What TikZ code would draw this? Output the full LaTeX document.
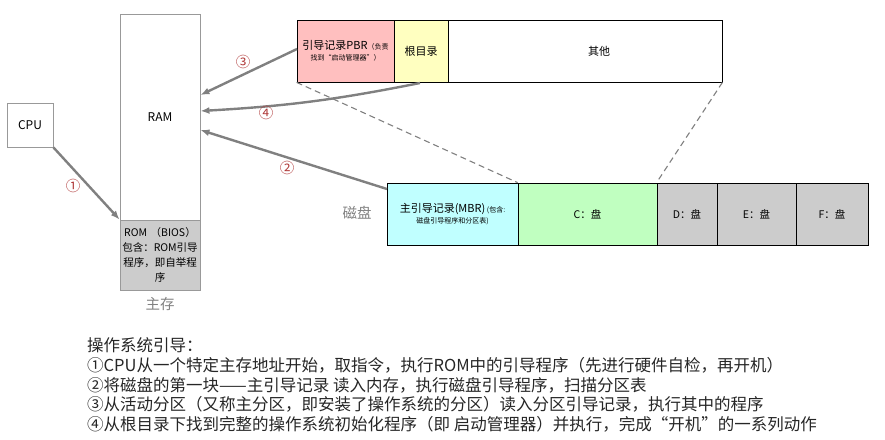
\documentclass[tikz,border=0pt]{standalone}
\usepackage{fontspec}
\setmainfont{Noto Sans CJK SC}
\usetikzlibrary{arrows.meta}
\definecolor{pbrc}{HTML}{FFBFBF}
\definecolor{rootc}{HTML}{FFFFC0}
\definecolor{mbrc}{HTML}{C0FFFF}
\definecolor{cdc}{HTML}{C0FFC0}
\definecolor{greyc}{HTML}{CCCCCC}
\definecolor{arrc}{HTML}{808080}
\definecolor{numc}{HTML}{B03A3A}
\definecolor{edgec}{HTML}{999999}
\definecolor{labc}{HTML}{808080}
\begin{document}
\begin{tikzpicture}[x=1pt,y=-1pt,
  mem/.style={draw=edgec, line width=0.8pt, inner sep=0pt, font=\fontsize{12}{14}\selectfont},
  cell/.style={draw=black, line width=0.8pt, inner sep=2pt, minimum height=62pt, align=center},
  conn/.style={draw=arrc, line width=2.4pt, -{Latex[length=9pt,width=7pt]}},
  dash line/.style={draw=arrc, line width=1.1pt, dash pattern=on 6pt off 4pt},
  num/.style={text=numc, font=\fontsize{14.5}{16}\selectfont, inner sep=0pt},
  grlab/.style={text=labc, font=\fontsize{14.5}{16}\selectfont, inner sep=0pt},
  para/.style={anchor=west, inner sep=0pt, font=\fontsize{16.5}{18}\selectfont, text=black!85}
]
\useasboundingbox (0,0) rectangle (885,439);

% CPU and memory
\node[mem, minimum width=46pt, minimum height=44pt] (cpu) at (30,125) {CPU};
\node[mem, minimum width=80pt, minimum height=206pt] (ram) at (160,117) {RAM};
\node[mem, fill=greyc, minimum width=80pt, minimum height=70pt, text width=76pt, align=center,
      font=\fontsize{10.5}{15}\selectfont] (rom) at (160,255)
      {ROM （BIOS）\\包含：ROM引导\\程序，即自举程\\序};
\node[grlab] (zhucun) at (160,304) {主存};

% partition record strip
\node[cell, fill=pbrc, minimum width=97pt] (pbr) at (345.5,51)
  {{\fontsize{11}{13}\selectfont 引导记录PBR}{\fontsize{7}{9}\selectfont （负责}\\[-1pt]{\fontsize{7}{9}\selectfont 找到“启动管理器”）}};
\node[cell, fill=rootc, minimum width=54pt, font=\fontsize{11}{13}\selectfont] (root) at (421,51) {根目录};
\node[cell, minimum width=274pt, font=\fontsize{11}{13}\selectfont] (other) at (585,51) {\hspace*{28pt}其他};

% disk strip
\node[cell, fill=mbrc, minimum width=131pt] (mbr) at (452.5,214)
  {{\fontsize{11}{13}\selectfont 主引导记录(MBR)}{\fontsize{7}{9}\selectfont\ (包含:}\\[-1pt]{\fontsize{7}{9}\selectfont 磁盘引导程序和分区表)}};
\node[cell, fill=cdc, minimum width=139pt, font=\fontsize{10.5}{12}\selectfont] (cdisk) at (587.5,214) {C：盘};
\node[cell, fill=greyc, minimum width=60pt, font=\fontsize{10.5}{12}\selectfont] (ddisk) at (687,214) {D：盘};
\node[cell, fill=greyc, minimum width=79pt, font=\fontsize{10.5}{12}\selectfont] (edisk) at (756.5,214) {E：盘};
\node[cell, fill=greyc, minimum width=72pt, font=\fontsize{10.5}{12}\selectfont] (fdisk) at (832,214) {F：盘};
\node[grlab] (cipan) at (357,213) {磁盘};

% dashed zoom lines
\draw[dash line] (pbr.south west) -- (cdisk.north west);
\draw[dash line] (other.south east) -- (ddisk.north west);

% arrows
\coordinate (t1) at (ram.east |- 0,95);
\coordinate (t2) at (ram.east |- 0,111);
\coordinate (t3) at (ram.east |- 0,130);
\coordinate (s3) at (297,49);
\coordinate (s4) at (420,83);
\coordinate (s2) at (387,189);
\draw[conn] (cpu.south east) -- (rom.north west);
\draw[conn] (s3) -- (t1);
\draw[conn] (s4) to[bend left=4] (t2);
\draw[conn] (s2) -- (t3);
\node[num] (n1) at (73,186) {①};
\node[num] (n3) at (243,62) {③};
\node[num] (n4) at (266,113) {④};
\node[num] (n2) at (287,168) {②};

% explanation text
\node[para] (l0) at (87,345) {操作系统引导：};
\node[para] (l1) at (87,365) {①CPU从一个特定主存地址开始，取指令，执行ROM中的引导程序（先进行硬件自检，再开机）};
\node[para] (l2) at (87,385) {②将磁盘的第一块——主引导记录 读入内存，执行磁盘引导程序，扫描分区表};
\node[para] (l3) at (87,404) {③从活动分区（又称主分区，即安装了操作系统的分区）读入分区引导记录，执行其中的程序};
\node[para] (l4) at (87,424) {④从根目录下找到完整的操作系统初始化程序（即 启动管理器）并执行，完成“开机”的一系列动作};
\end{tikzpicture}
\end{document}
